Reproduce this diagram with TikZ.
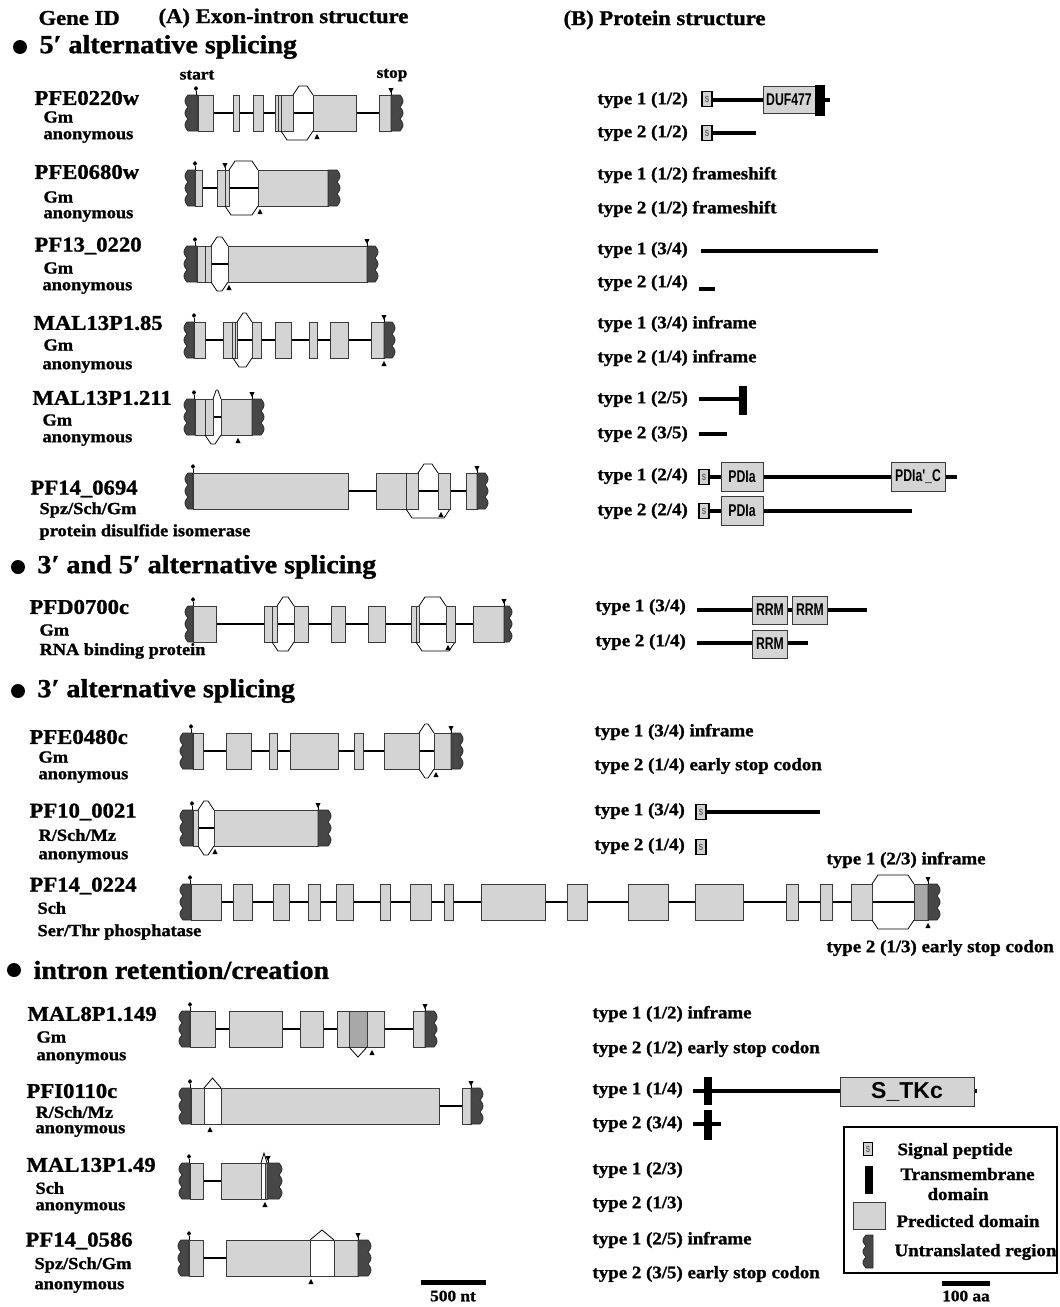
\documentclass[tikz,border=0pt]{standalone}
\usepackage{fontspec}
\setmainfont{Liberation Serif}[FakeStretch=1.08, BoldFeatures={FakeBold=1.2}]
\newfontfamily\domfont{Liberation Sans}[FakeStretch=0.72]
\newfontfamily\kinfont{Liberation Sans}
\usetikzlibrary{calc}
\definecolor{exonfill}{HTML}{D4D4D4}
\definecolor{exonedge}{HTML}{3A3A3A}
\definecolor{utrfill}{HTML}{474747}
\definecolor{utredge}{HTML}{2A2A2A}
\definecolor{retfill}{HTML}{A8A8A8}
% gene structure pieces, all on the current centre line \yc
\newcommand{\exon}[2]{\filldraw[exonbox] (#1,\yc-18) rectangle (#2,\yc+18);}
\newcommand{\retained}[2]{\filldraw[exonbox, fill=white] (#1,\yc-18) rectangle (#2,\yc+18);}
\newcommand{\intr}[2]{\draw[intron] (#1,\yc) -- (#2,\yc);}
\newcommand{\site}[1]{\draw[sitel] (#1,\yc-18) -- (#1,\yc+18);}
\newcommand{\utrL}[2]{\filldraw[utr] (#2,\yc-18) -- (#1,\yc-18) -- plot[domain=0:36, samples=37, variable=\t] ({#1-3*abs(sin(\t*15))},{\yc-18+\t}) -- (#2,\yc+18) -- cycle;}
\newcommand{\utrR}[2]{\filldraw[utr] (#1,\yc-18) -- (#2,\yc-18) -- plot[domain=0:36, samples=37, variable=\t] ({#2+3*abs(sin(\t*15))},{\yc-18+\t}) -- (#1,\yc+18) -- cycle;}
\newcommand{\spup}[2]{\draw[splice] (#1,\yc-18) -- ({#1+min(6,0.4*(#2-#1))},\yc-27) -- ({#2-min(6,0.4*(#2-#1))},\yc-27) -- (#2,\yc-18);}
\newcommand{\spdown}[2]{\draw[splice] (#1,\yc+18) -- ({#1+min(6,0.4*(#2-#1))},\yc+27) -- ({#2-min(6,0.4*(#2-#1))},\yc+27) -- (#2,\yc+18);}
\newcommand{\retup}[2]{\draw[splice] (#1,\yc-18) -- ({(#1+#2)/2},\yc-28) -- (#2,\yc-18);}
\newcommand{\retdown}[2]{\draw[splice] (#1,\yc+18) -- ({(#1+#2)/2},\yc+28) -- (#2,\yc+18);}
\newcommand{\startmk}[1]{\draw[mkline] (#1,\yc-18) -- (#1,\yc-22); \fill (#1,\yc-27) -- (#1+2.2,\yc-24.5) -- (#1,\yc-22) -- (#1-2.2,\yc-24.5) -- cycle;}
\newcommand{\stopmk}[1]{\draw[mkline] (#1,\yc-18) -- (#1,\yc-21); \fill (#1-2.6,\yc-25) -- (#1+2.6,\yc-25) -- (#1,\yc-20) -- cycle;}
\newcommand{\altmk}[1]{\fill (#1-2.6,\yc+26) -- (#1+2.6,\yc+26) -- (#1,\yc+21) -- cycle;}
% protein pieces
\newcommand{\bb}[3]{\draw[backbone] (#1,#3) -- (#2,#3);}
\newcommand{\tmbar}[3]{\fill (#1-4,#2-#3) rectangle (#1+4,#2+#3);}

\begin{document}
\begin{tikzpicture}[x=1pt, y=-1pt,
  hdr/.style={anchor=west, font=\bfseries\fontsize{21}{24}\selectfont},
  sect/.style={anchor=west, font=\bfseries\fontsize{26}{30}\selectfont},
  gid/.style={anchor=west, font=\bfseries\fontsize{21}{24}\selectfont},
  gsub/.style={anchor=west, font=\bfseries\fontsize{17}{19}\selectfont},
  ptype/.style={anchor=west, font=\bfseries\fontsize{17.5}{20}\selectfont},
  startstop/.style={font=\bfseries\fontsize{16}{18}\selectfont},
  exonbox/.style={draw=exonedge, fill=exonfill, line width=0.9pt},
  utr/.style={draw=utredge, fill=utrfill, line width=0.8pt},
  intron/.style={draw=black, line width=2.2pt},
  splice/.style={draw=black, line width=0.8pt},
  mkline/.style={draw=black, line width=0.8pt},
  sitel/.style={draw=exonedge, line width=0.9pt},
  backbone/.style={draw=black, line width=4.5pt},
  dom/.style={draw=exonedge, fill=exonfill, line width=1pt, inner sep=0pt, font=\domfont\bfseries\fontsize{17}{17}\selectfont},
  sigbox/.style={draw=black, fill=gray!35, line width=1.2pt, inner sep=0pt, minimum width=10, minimum height=15, text=gray!75!black, font=\domfont\bfseries\fontsize{9}{9}\selectfont},
  scalebar/.style={draw=black, line width=5pt},
]
\useasboundingbox (0,0) rectangle (1060,1307);

% headers
\node[hdr] (geneid) at (35,18) {Gene ID};
\node[hdr] (heada) at (155,18) {(A) Exon-intron structure};
\node[hdr] (headb) at (560,20) {(B) Protein structure};

% ---- 5' alternative splicing
\fill (20,47) circle (7);
\node[sect] (sec5) at (36,47) {5′ alternative splicing};
\node[startstop] (startlbl) at (197,75) {start};
\node[startstop] (stoplbl) at (392,75) {stop};

\node[gid] (g1) at (31,98) {PFE0220w};
\node[gsub] (g1a) at (40,117) {Gm};
\node[gsub] (g1b) at (40,137) {anonymous};
\def\yc{113}
\intr{213}{379}
\utrL{188}{198} \exon{198}{213}
\exon{233}{239} \exon{253}{263}
\exon{275}{293} \site{278} \site{281}
\spup{293}{313} \spdown{281}{313}
\exon{313}{356}
\exon{379}{391} \utrR{391}{400}
\startmk{196} \stopmk{391} \altmk{317}

\node[gid] (g2) at (31,172) {PFE0680w};
\node[gsub] (g2a) at (40,197) {Gm};
\node[gsub] (g2b) at (40,216) {anonymous};
\def\yc{188}
\intr{202}{258}
\utrL{188}{195} \exon{195}{202}
\exon{217}{229} \site{225}
\spup{229}{258} \spdown{225}{258}
\exon{258}{328} \utrR{328}{337}
\startmk{195} \stopmk{225} \altmk{260}

\node[gid] (g3) at (31,246) {PF13\_0220};
\node[gsub] (g3a) at (40,268) {Gm};
\node[gsub] (g3b) at (39,288) {anonymous};
\def\yc{264}
\intr{211}{228}
\utrL{187}{197} \exon{197}{211} \site{205}
\spup{211}{228} \spdown{211}{228}
\exon{228}{367} \utrR{367}{375}
\startmk{195} \stopmk{367} \altmk{229}

\node[gid] (g4) at (30,323) {MAL13P1.85};
\node[gsub] (g4a) at (40,345) {Gm};
\node[gsub] (g4b) at (39,367) {anonymous};
\def\yc{340}
\intr{205}{371}
\utrL{187}{194} \exon{194}{205}
\exon{223}{237} \site{232} \site{235}
\spup{237}{252} \spdown{233}{252}
\exon{252}{261} \exon{275}{291} \exon{309}{317} \exon{330}{348}
\exon{371}{384} \utrR{384}{392}
\startmk{194} \stopmk{384} \altmk{384}

\node[gid] (g5) at (29,398) {MAL13P1.211};
\node[gsub] (g5a) at (39,420) {Gm};
\node[gsub] (g5b) at (39,440) {anonymous};
\def\yc{417}
\intr{213}{221}
\utrL{187}{195} \exon{195}{213} \site{205}
\spup{213}{221} \spdown{205}{221}
\exon{221}{252} \utrR{252}{261}
\startmk{194} \stopmk{252} \altmk{238}

\node[gid] (g6) at (27,489) {PF14\_0694};
\node[gsub] (g6a) at (36,510) {Spz/Sch/Gm};
\node[gsub] (g6b) at (36,532) {protein disulfide isomerase};
\def\yc{491}
\intr{348}{466}
\utrL{188}{193} \exon{193}{348}
\exon{376}{418} \site{406}
\spup{418}{438} \spdown{406}{450}
\exon{438}{450}
\exon{466}{477} \utrR{477}{485}
\startmk{193} \stopmk{477} \altmk{441}

% ---- 3' and 5' alternative splicing
\fill (18,567) circle (7);
\node[sect] (sec35) at (34,567) {3′ and 5′ alternative splicing};

\node[gid] (g7) at (26,607) {PFD0700c};
\node[gsub] (g7a) at (36,630) {Gm};
\node[gsub] (g7b) at (36,651) {RNA binding protein};
\def\yc{624}
\intr{216}{473}
\utrL{188}{193} \exon{193}{216}
\exon{264}{277} \site{272}
\spup{277}{294} \spdown{272}{294}
\exon{294}{308}
\exon{331}{345} \exon{368}{385}
\exon{411}{419} \site{416}
\spup{419}{446} \spdown{416}{455}
\exon{446}{455}
\exon{473}{504} \utrR{504}{509}
\startmk{193} \stopmk{504} \altmk{448}

% ---- 3' alternative splicing
\fill (18,691) circle (7);
\node[sect] (sec3) at (34,691) {3′ alternative splicing};

\node[gid] (g8) at (26,737) {PFE0480c};
\node[gsub] (g8a) at (35,757) {Gm};
\node[gsub] (g8b) at (35,777) {anonymous};
\def\yc{751}
\intr{203}{434}
\utrL{183}{193} \exon{193}{203}
\exon{226}{251} \exon{269}{277} \exon{290}{338} \exon{354}{363} \exon{384}{419}
\spup{419}{434} \spdown{419}{434}
\exon{434}{451} \utrR{451}{460}
\startmk{191} \stopmk{451} \altmk{436}

\node[gid] (g9) at (26,812) {PF10\_0021};
\node[gsub] (g9a) at (35,835) {R/Sch/Mz};
\node[gsub] (g9b) at (35,857) {anonymous};
\def\yc{828}
\intr{198}{214}
\utrL{183}{193} \exon{193}{198}
\spup{198}{214} \spdown{198}{214}
\exon{214}{318} \utrR{318}{328}
\startmk{192} \stopmk{318} \altmk{215}

\node[gid] (g10) at (26,886) {PF14\_0224};
\node[gsub] (g10a) at (34,908) {Sch};
\node[gsub] (g10b) at (34,932) {Ser/Thr phosphatase};
\def\yc{902}
\intr{221}{914}
\utrL{183}{191} \exon{191}{221}
\exon{233}{252} \exon{273}{289} \exon{308}{320} \exon{336}{353} \exon{380}{390}
\exon{410}{431} \exon{444}{453} \exon{481}{545} \exon{567}{587} \exon{628}{668}
\exon{695}{743} \exon{786}{798} \exon{820}{832} \exon{851}{872}
\spup{872}{914} \spdown{872}{914}
\filldraw[exonbox, fill=retfill] (914,\yc-18) rectangle (928,\yc+18);
\utrR{928}{937}
\startmk{190} \stopmk{928} \altmk{928}

% ---- intron retention/creation
\fill (14,970) circle (7);
\node[sect] (secir) at (30,970) {intron retention/creation};

\node[gid] (g11) at (24,1014) {MAL8P1.149};
\node[gsub] (g11a) at (33,1037) {Gm};
\node[gsub] (g11b) at (33,1058) {anonymous};
\def\yc{1029}
\intr{215}{413}
\utrL{182}{190} \exon{190}{215}
\exon{229}{282} \exon{300}{323}
\exon{337}{384}
\filldraw[exonbox, fill=retfill] (349,\yc-18) rectangle (367,\yc+18);
\retdown{349}{367}
\exon{413}{425} \utrR{425}{434}
\startmk{190} \stopmk{425} \altmk{372}

\node[gid] (g12) at (23,1091) {PFI0110c};
\node[gsub] (g12a) at (32,1112) {R/Sch/Mz};
\node[gsub] (g12b) at (32,1131) {anonymous};
\def\yc{1106}
\intr{439}{462}
\utrL{182}{191} \exon{191}{439} \retained{204}{221}
\retup{204}{221}
\exon{462}{471} \utrR{471}{480}
\startmk{190} \stopmk{471} \altmk{210}

\node[gid] (g13) at (23,1165) {MAL13P1.49};
\node[gsub] (g13a) at (32,1188) {Sch};
\node[gsub] (g13b) at (32,1208) {anonymous};
\def\yc{1181}
\intr{203}{221}
\utrL{182}{190} \exon{190}{203}
\exon{221}{267} \retained{261}{265}
\retup{261}{267}
\utrR{267}{279}
\startmk{189} \stopmk{268} \altmk{265}

\node[gid] (g14) at (22,1241) {PF14\_0586};
\node[gsub] (g14a) at (31,1265) {Spz/Sch/Gm};
\node[gsub] (g14b) at (31,1287) {anonymous};
\def\yc{1258}
\intr{203}{226}
\utrL{181}{189} \exon{189}{203}
\exon{226}{358} \retained{310}{334}
\retup{310}{334}
\utrR{358}{368}
\startmk{189} \stopmk{358} \altmk{311}

\draw[scalebar] (421,1282) -- (486,1282);
\node[startstop] (ntbar) at (453,1296) {500 nt};

% ---- protein structures
\node[ptype] (p1) at (594,100) {type 1 (1/2)};
\bb{712}{830}{100}
\node[sigbox] (p1s) at (707,99) {S};
\node[dom, minimum width=52, minimum height=27] (p1d) at (789,100) {DUF477};
\fill (815,85) rectangle (825,116);
\node[ptype] (p2) at (594,133) {type 2 (1/2)};
\bb{712}{756}{133}
\node[sigbox] (p2s) at (707,133) {S};

\node[ptype] (p3) at (594,175) {type 1 (1/2) frameshift};
\node[ptype] (p4) at (594,209) {type 2 (1/2) frameshift};

\node[ptype] (p5) at (594,250) {type 1 (3/4)};
\bb{701}{878}{251}
\node[ptype] (p6) at (594,283) {type 2 (1/4)};
\bb{699}{715}{289}

\node[ptype] (p7) at (594,324) {type 1 (3/4) inframe};
\node[ptype] (p8) at (594,358) {type 2 (1/4) inframe};

\node[ptype] (p9) at (594,399) {type 1 (2/5)};
\bb{699}{740}{399}
\tmbar{743}{400}{14.5}
\node[ptype] (p10) at (594,434) {type 2 (3/5)};
\bb{699}{727}{434}

\node[ptype] (p11) at (594,476) {type 1 (2/4)};
\bb{709}{957}{477}
\node[sigbox] (p11s) at (704,477) {S};
\node[dom, minimum width=42, minimum height=29] (p11d) at (742,477) {PDIa};
\node[dom, minimum width=54, minimum height=29] (p11e) at (918,477) {PDIa'\_C};
\node[ptype] (p12) at (594,511) {type 2 (2/4)};
\bb{709}{912}{511}
\node[sigbox] (p12s) at (704,511) {S};
\node[dom, minimum width=42, minimum height=29] (p12d) at (742,511) {PDIa};

\node[ptype] (p13) at (592,607) {type 1 (3/4)};
\bb{697}{867}{610}
\node[dom, minimum width=35, minimum height=28] (p13d) at (770,610) {RRM};
\node[dom, minimum width=35, minimum height=28] (p13e) at (810,610) {RRM};
\node[ptype] (p14) at (592,642) {type 2 (1/4)};
\bb{697}{808}{643}
\node[dom, minimum width=35, minimum height=28] (p14d) at (770,644) {RRM};

\node[ptype] (p15) at (591,732) {type 1 (3/4) inframe};
\node[ptype] (p16) at (591,766) {type 2 (1/4) early stop codon};

\node[ptype] (p17) at (591,811) {type 1 (3/4)};
\bb{707}{820}{812}
\node[sigbox] (p17s) at (701,812) {S};
\node[ptype] (p18) at (591,846) {type 2 (1/4)};
\node[sigbox] (p18s) at (701,847) {S};

\node[ptype] (p19) at (823,860) {type 1 (2/3) inframe};
\node[ptype] (p20) at (823,948) {type 2 (1/3) early stop codon};

\node[ptype] (p21) at (589,1014) {type 1 (1/2) inframe};
\node[ptype] (p22) at (589,1049) {type 2 (1/2) early stop codon};

\node[ptype] (p23) at (589,1090) {type 1 (1/4)};
\bb{693}{977}{1091}
\tmbar{708}{1091}{14}
\node[dom, minimum width=134, minimum height=29, font=\kinfont\bfseries\fontsize{23}{23}\selectfont] (p23d) at (907,1092) {S\_TKc};
\node[ptype] (p24) at (589,1124) {type 2 (3/4)};
\bb{693}{721}{1124}
\tmbar{708}{1125}{15}

\node[ptype] (p25) at (589,1170) {type 1 (2/3)};
\node[ptype] (p26) at (589,1204) {type 2 (1/3)};
\node[ptype] (p27) at (589,1240) {type 1 (2/5) inframe};
\node[ptype] (p28) at (589,1274) {type 2 (3/5) early stop codon};

% legend
\draw[line width=1.5pt] (844,1127) rectangle (1057,1273);
\node[sigbox, minimum width=9, minimum height=13] (legs) at (868,1149) {S};
\node[ptype] (legsl) at (894,1151) {Signal peptide};
\fill (865,1166) rectangle (873,1194);
\node[ptype] (legtm) at (897,1174) {Transmembrane};
\node[ptype, anchor=center] (legtm2) at (958,1194) {domain};
\filldraw[exonbox] (853,1202) rectangle (885,1229);
\node[ptype] (legpd) at (893,1221) {Predicted domain};
\filldraw[utr] (873,1235) -- (866,1235) -- plot[domain=0:33, samples=34, variable=\t] ({866-3*abs(sin(\t*180/11))},{1235+\t}) -- (873,1268) -- cycle;
\node[ptype] (legutr) at (891,1252) {Untranslated region};

\draw[scalebar] (942,1283) -- (990,1283);
\node[startstop] (aabar) at (966,1296) {100 aa};
\end{tikzpicture}
\end{document}
